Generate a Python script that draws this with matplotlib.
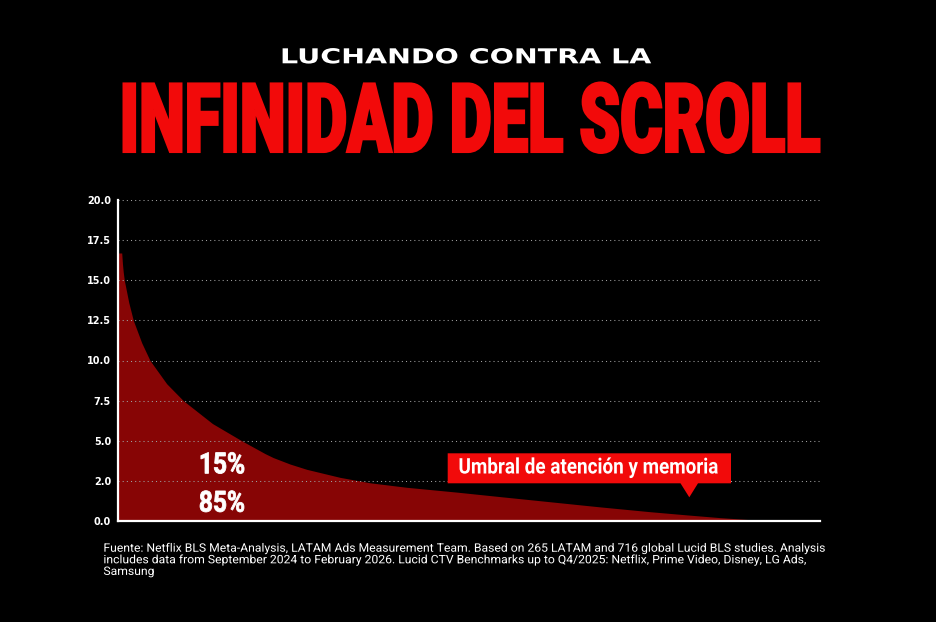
import numpy as np
import matplotlib
matplotlib.use('Agg')
import matplotlib.pyplot as plt
from matplotlib.patches import Polygon
from matplotlib.patheffects import AbstractPathEffect
from matplotlib.transforms import Affine2D

# Datos (posicion a lo largo del scroll 0-100)
posicion = [0.0, 0.53, 0.64, 0.75, 0.90, 1.54, 2.18, 3.38, 4.56, 6.94, 9.30, 13.46,
            17.62, 20.94, 22.12, 24.50, 26.88, 31.62, 35.90, 41.13, 48.25, 54.42,
            61.54, 68.66, 75.78, 81.05, 85.75, 90.46, 95.73, 100.0]
valor = [16.7, 16.7, 16.0, 15.5, 15.0, 13.6, 12.5, 11.1, 10.0, 8.55, 7.5, 6.07,
         5.0, 4.2, 3.95, 3.55, 3.22, 2.72, 2.38, 2.1, 1.8, 1.52,
         1.2, 0.88, 0.58, 0.38, 0.21, 0.07, 0.0, 0.0]

yticks = [0, 2.5, 5, 7.5, 10, 12.5, 15, 17.5, 20]
ytick_labels = ['0.0', '2.0', '5.0', '7.5', '10.0', '12.5', '15.0', '17.5', '20.0']

etiquetas_pct = ['15%', '85%']
nota_umbral = 'Umbral de atención y memoria'
subtitulo = 'LUCHANDO CONTRA LA'
titulo = 'INFINIDAD DEL SCROLL'
fuente = ['Fuente: Netflix BLS Meta-Analysis, LATAM Ads Measurement Team. Based on 265 LATAM and 716 global Lucid BLS studies. Analysis',
          'includes data from September 2024 to February 2026. Lucid CTV Benchmarks up to Q4/2025: Netflix, Prime Video, Disney, LG Ads,',
          'Samsung']

ROJO = '#F20A0A'
ROJO_OSCURO = '#870505'
W, H = 936, 622


class Apretar(AbstractPathEffect):
    # escala el texto alrededor de (x0, y0) en pixeles, con trazo opcional para engrosar
    def __init__(self, sx, x0, sy=1.0, y0=0.0, grosor=0.0):
        super().__init__()
        self.sx, self.x0 = sx, x0
        self.sy, self.y0 = sy, y0
        self.grosor = grosor

    def draw_path(self, renderer, gc, tpath, affine, rgbFace=None):
        t = affine + (Affine2D().translate(-self.x0, -self.y0)
                      .scale(self.sx, self.sy).translate(self.x0, self.y0))
        if self.grosor > 0:
            gc0 = renderer.new_gc()
            gc0.copy_properties(gc)
            gc0.set_linewidth(self.grosor)
            gc0.set_foreground(rgbFace)
            gc0.set_joinstyle('miter')
            renderer.draw_path(gc0, tpath, t, rgbFace)
            gc0.restore()
        else:
            renderer.draw_path(gc, tpath, t, rgbFace)


def fx(px):
    return px / W


def fy(py):
    return 1 - py / H


def ajustar(txt, ancho, sx=None, sy=1.0, grosor=0.0):
    r = fig.canvas.get_renderer()
    bb = txt.get_window_extent(renderer=r)
    if sx is None:
        sx = ancho / bb.width
    ha = txt.get_ha()
    if ha == 'left':
        x0 = bb.x0
    elif ha == 'right':
        x0 = bb.x1
    else:
        x0 = (bb.x0 + bb.x1) / 2
    y0 = txt.get_transform().transform(txt.get_position())[1]
    txt.set_path_effects([Apretar(sx, x0, sy, y0, grosor)])
    return sx


fig = plt.figure(figsize=(W / 100, H / 100), dpi=100, facecolor='black')
ax = fig.add_axes([fx(118), fy(521), (820 - 118) / W, (521 - 200) / H])
ax.set_facecolor('black')

ax.fill_between(posicion, valor, 0, color=ROJO_OSCURO, linewidth=0, zorder=1)

ax.set_xlim(0, 100)
ax.set_ylim(0, 20)
ax.set_xticks([])
ax.set_yticks(yticks)
ax.set_yticklabels(ytick_labels)
ax.tick_params(axis='y', length=0, pad=5, labelcolor='white', labelsize=7)
for lab in ax.get_yticklabels():
    lab.set_fontweight('bold')
    lab.set_family('DejaVu Sans')

ax.set_axisbelow(False)
ax.yaxis.grid(True, color='#a0a0a0', linewidth=0.75, linestyle=(0, (1, 3)))
for s in ['top', 'right']:
    ax.spines[s].set_visible(False)
for s in ['left', 'bottom']:
    ax.spines[s].set_color('white')
    ax.spines[s].set_linewidth(1.6)
    ax.spines[s].set_zorder(5)

# porcentajes sobre el area
t1 = ax.text(14.8, 2.97, etiquetas_pct[0], ha='center', va='baseline', color='white',
             fontsize=21, fontweight='bold', family='Roboto', zorder=6)
t2 = ax.text(14.8, 0.58, etiquetas_pct[1], ha='center', va='baseline', color='white',
             fontsize=21, fontweight='bold', family='Roboto', zorder=6)

# caja del umbral con su piquito
caja = [(447.7, 453.3), (731, 453.3), (731, 483.3), (698, 483.3), (689.3, 497.3),
        (680.5, 483.3), (447.7, 483.3)]
fig.add_artist(Polygon([(fx(a), fy(b)) for a, b in caja], closed=True,
                       transform=fig.transFigure, facecolor=ROJO, edgecolor='none', zorder=3))
t3 = fig.text(fx(588.5), fy(473.5), nota_umbral, ha='center', va='baseline', color='white',
              fontsize=15.5, fontweight='bold', family='Roboto', zorder=4)

# titulos
t4 = fig.text(fx(465), fy(63.3), subtitulo, ha='center', va='baseline', color='white',
              fontsize=14.8, fontweight='bold', family='DejaVu Sans')
t5 = fig.text(fx(470), fy(151.8), titulo, ha='center', va='baseline', color=ROJO,
              fontsize=52, fontweight='black', family='Roboto')

# nota de fuente
lineas = []
for i, linea in enumerate(fuente):
    lineas.append(fig.text(fx(103.4), fy(551.7 + 11.6 * i), linea, ha='left', va='baseline',
                           color='white', fontsize=8.4, family='Roboto'))

fig.canvas.draw()
ajustar(t1, 46, grosor=0.6)
ajustar(t2, 46, grosor=0.6)
ajustar(t3, 260)
ajustar(t4, 370)
ajustar(t5, 701, sy=69 / 52, grosor=1.8)
sx = ajustar(lineas[0], 717)
for l in lineas[1:]:
    ajustar(l, 0, sx)

fig.savefig('out.png', dpi=100, facecolor='black')
